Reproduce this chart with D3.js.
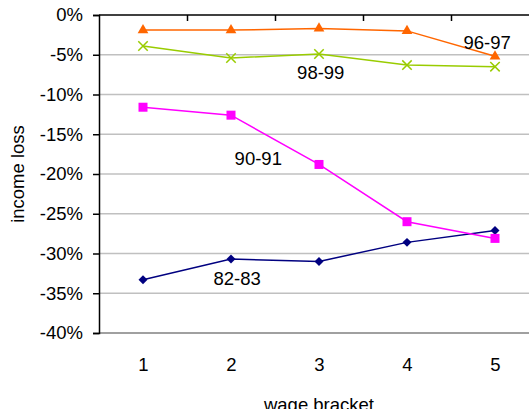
<!DOCTYPE html>
<html><head><meta charset="utf-8">
<script src="https://cdn.jsdelivr.net/npm/d3@7"></script>
<style>body{margin:0;background:#fff;}svg{display:block;font-family:"Liberation Sans",Arial,sans-serif;}</style>
</head><body>
<svg id="c" width="529" height="409"></svg>
<script>
const categories = [1, 2, 3, 4, 5];
const yTicks = [0, -5, -10, -15, -20, -25, -30, -35, -40];
const s8283 = [-33.3, -30.7, -31.0, -28.6, -27.1];
const s9091 = [-11.6, -12.6, -18.8, -26.0, -28.1];
const s9697 = [-1.9, -1.9, -1.7, -2.0, -5.2];
const s9899 = [-3.9, -5.4, -4.9, -6.3, -6.5];
const seriesNames = ["82-83", "90-91", "96-97", "98-99"];

const series = [
  {name: seriesNames[0], values: s8283, color: "#000080", marker: "diamond", label: [2.07, -33.9]},
  {name: seriesNames[1], values: s9091, color: "#FF00FF", marker: "square", label: [2.31, -18.9]},
  {name: seriesNames[2], values: s9697, color: "#FF6600", marker: "triangle", label: [4.91, -4.28]},
  {name: seriesNames[3], values: s9899, color: "#99CC00", marker: "x", label: [3.02, -8.05]}
];

const svg = d3.select("#c");
const L = 99, R = 539, T = 15, B = 333;
const x = d3.scaleLinear().domain([0.5, 5.5]).range([L, R]);
const y = d3.scaleLinear().domain([0, -40]).range([T, B]);
const fs = 18.5;

// gridlines
svg.append("g").selectAll("line").data(yTicks.filter(d => d !== 0 && d !== -40)).join("line")
  .attr("x1", L).attr("x2", R).attr("y1", d => y(d)).attr("y2", d => y(d))
  .attr("stroke", "#c0c0c0").attr("stroke-width", 1.5);
svg.append("line").attr("x1", L).attr("x2", R).attr("y1", y(-40)).attr("y2", y(-40))
  .attr("stroke", "#808080").attr("stroke-width", 1.5);

// y axis
const yAxis = svg.append("g").attr("transform", `translate(${L},0)`)
  .call(d3.axisLeft(y).tickValues(yTicks).tickSize(6).tickPadding(10).tickFormat(d => d + "%"));
yAxis.select(".domain").attr("stroke", "#000").attr("stroke-width", 1.5);
yAxis.selectAll(".tick line").attr("stroke", "#000").attr("stroke-width", 1.5);
yAxis.selectAll("text").attr("font-size", fs).attr("fill", "#000").attr("font-family", null);

// top category axis at 0%
const xAxisTop = svg.append("g").attr("transform", `translate(0,${T})`)
  .call(d3.axisBottom(x).tickValues([1.5, 2.5, 3.5, 4.5]).tickSize(6).tickFormat(""));
xAxisTop.select(".domain").attr("d", `M${L},0H${R}`).attr("stroke", "#000").attr("stroke-width", 1.5);
xAxisTop.selectAll(".tick line").attr("stroke", "#000").attr("stroke-width", 1.5);

// category labels at bottom
const xAxisBottom = svg.append("g").attr("transform", `translate(0,${B})`)
  .call(d3.axisBottom(x).tickValues(categories).tickSize(0).tickPadding(25).tickFormat(d3.format("d")));
xAxisBottom.select(".domain").remove();
xAxisBottom.selectAll("text").attr("font-size", fs).attr("fill", "#000").attr("font-family", null);

// titles
svg.append("text").attr("x", (L + R) / 2).attr("y", 411).attr("text-anchor", "middle")
  .attr("font-size", fs).text("wage bracket");
svg.append("text").attr("transform", `translate(24,${(T + B) / 2}) rotate(-90)`).attr("text-anchor", "middle")
  .attr("font-size", fs).text("income loss");

// lines
const line = d3.line().x((d, i) => x(categories[i])).y(d => y(d));
const symbols = {diamond: d3.symbolSquare, square: d3.symbolSquare, triangle: d3.symbolTriangle, x: d3.symbolX};
const sizes = {diamond: 40, square: 81, triangle: 50, x: 60};
series.forEach(s => {
  svg.append("path").datum(s.values).attr("d", line).attr("fill", "none")
    .attr("stroke", s.color).attr("stroke-width", 1.5);
  const g = svg.append("g");
  g.selectAll("path").data(s.values).join("path")
    .attr("transform", (d, i) => `translate(${x(categories[i])},${y(d)})` + (s.marker === "diamond" ? " rotate(45)" : ""))
    .attr("d", d3.symbol().type(symbols[s.marker]).size(sizes[s.marker]))
    .attr("fill", s.marker === "x" ? "none" : s.color)
    .attr("stroke", s.color).attr("stroke-width", s.marker === "x" ? 1.5 : 0);
  svg.append("text").attr("x", x(s.label[0])).attr("y", y(s.label[1])).attr("text-anchor", "middle")
    .attr("font-size", fs).attr("fill", "#000").text(s.name);
});
</script>
</body></html>
